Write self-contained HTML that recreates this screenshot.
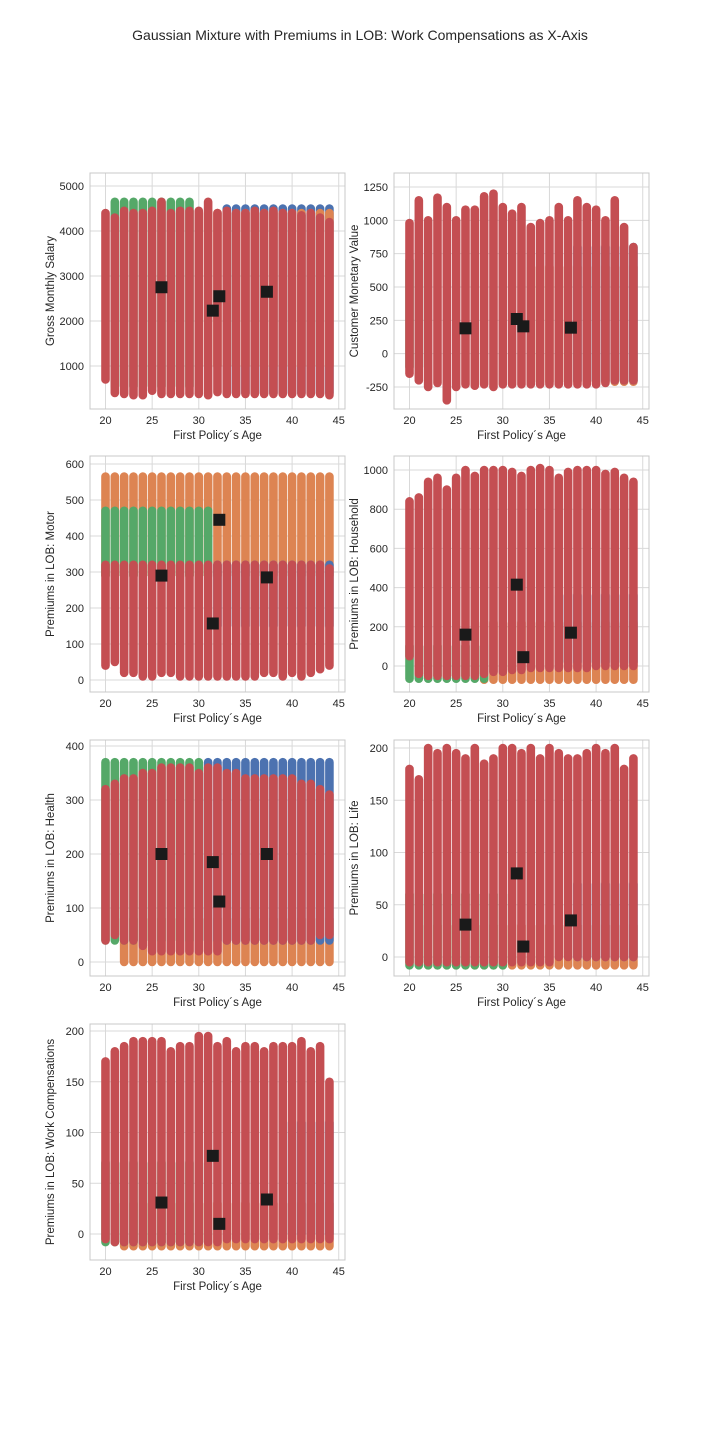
<!DOCTYPE html>
<html><head><meta charset="utf-8"><style>
body{margin:0;background:#fff;}
svg{display:block;font-family:"Liberation Sans",sans-serif;}
</style></head><body>
<svg id="chart" width="720" height="1440" viewBox="0 0 720 1440">
<rect width="720" height="1440" fill="#fff"/>
<text x="360" y="40" text-anchor="middle" font-size="14" fill="#262626">Gaussian Mixture with Premiums in LOB: Work Compensations as X-Axis</text>
</svg>
<script>
const ages=[20,21,22,23,24,25,26,27,28,29,30,31,32,33,34,35,36,37,38,39,40,41,42,43,44];
const xTicks=[20,25,30,35,40,45];
// panel 1 Gross Monthly Salary
const p1RedHi=[4400,4300,4450,4400,4400,4450,4650,4400,4450,4450,4450,4650,4400,4450,4400,4400,4450,4400,4450,4400,4400,4350,4400,4300,4200];
const p1RedLo=[700,400,380,350,350,450,380,380,380,380,380,350,420,380,380,380,380,380,380,380,380,380,380,380,350];
const p1Bands=[["#4c72b0",33,44,400,4500],["#dd8452",31,44,1000,4400],["#55a868",21,29,550,4650]];
const p1Cent=[[26,2750],[31.5,2230],[32.2,2550],[37.3,2650]];
// panel 2 CMV
const p2RedHi=[980,1150,1000,1170,1100,1000,1080,1080,1180,1200,1100,1050,1100,950,980,1000,1100,1000,1150,1100,1080,1000,1150,950,800];
const p2RedLo=[-150,-200,-250,-220,-350,-250,-230,-240,-230,-250,-230,-230,-230,-230,-230,-230,-230,-230,-230,-230,-230,-220,-200,-200,-200];
const p2Bands=[["#dd8452",33,44,-210,650],["#4c72b0",38,44,-200,800],["#55a868",20,21,-100,700]];
const p2Cent=[[26,190],[31.5,260],[32.2,205],[37.3,195]];
// panel 3 Motor
const p3RedHi=[320,320,320,320,320,320,320,320,320,320,320,320,320,320,320,320,320,320,320,320,320,320,320,320,310];
const p3RedLo=[40,50,20,20,10,10,20,20,10,10,10,10,10,10,10,10,10,20,20,10,20,10,20,30,40];
const p3Bands=[["#dd8452",20,44,290,565],["#55a868",20,31,290,470],["#4c72b0",32,44,150,320]];
const p3Cent=[[26,290],[31.5,157],[32.2,445],[37.3,285]];
// panel 4 Household
const p4RedHi=[840,860,940,960,900,960,1000,970,1000,1000,1000,990,970,1000,1010,1000,960,990,1000,1000,1000,980,990,960,940];
const p4RedLo=[50,-40,-50,-50,-50,-50,-50,-50,-40,-30,-30,-20,-20,-10,-10,-10,-10,-10,-10,-10,0,0,0,0,0];
const p4Bands=[["#dd8452",28,44,-70,220],["#4c72b0",36,44,20,360],["#55a868",20,28,-65,100]];
const p4Cent=[[26,160],[31.5,415],[32.2,45],[37.3,170]];
// panel 5 Health
const p5RedHi=[320,330,340,340,350,350,360,360,360,360,350,360,360,350,350,340,340,340,340,340,340,330,330,320,310];
const p5RedLo=[40,50,40,40,30,20,20,20,20,20,20,20,20,40,40,40,40,40,40,40,40,40,40,50,50];
const p5Bands=[["#dd8452",22,44,0,80],["#4c72b0",31,44,40,370],["#55a868",20,30,40,370]];
const p5Cent=[[26,200],[31.5,185],[32.2,112],[37.3,200]];
// panel 6 Life
const p6RedHi=[180,170,200,195,200,195,190,200,185,190,200,200,195,200,190,200,195,190,190,195,200,195,200,180,190];
const p6RedLo=[-5,-5,-5,-5,-5,-5,-5,-5,-5,-5,-5,-5,-5,-5,-5,-5,0,0,0,0,0,0,0,0,0];
const p6Bands=[["#dd8452",22,44,-8,30],["#4c72b0",38,44,0,70],["#55a868",20,30,-8,60]];
const p6Cent=[[26,31],[31.5,80],[32.2,10],[37.3,35]];
// panel 7 Work Compensations
const p7RedHi=[170,180,185,190,190,190,190,180,185,185,195,195,185,190,180,185,185,180,185,185,185,190,180,185,150];
const p7RedLo=[-5,-8,-8,-8,-8,-8,-8,-8,-8,-8,-8,-8,-8,-5,-5,-5,-5,-5,-5,-5,-5,-5,-5,-5,-5];
const p7Bands=[["#dd8452",22,44,-12,30],["#4c72b0",40,44,0,110],["#55a868",20,30,-8,70]];
const p7Cent=[[26,31],[31.5,77],[32.2,10],[37.3,34]];
const panels=[
 {name:"salary",label:"Gross Monthly Salary",x0:90,y0:173,ticks:[1000,2000,3000,4000,5000],ta:1000,pa:366,tb:5000,pb:186,hi:p1RedHi,lo:p1RedLo,bands:p1Bands,cent:p1Cent},
 {name:"cmv",label:"Customer Monetary Value",x0:394,y0:173,ticks:[-250,0,250,500,750,1000,1250],ta:-250,pa:387,tb:1250,pb:187,hi:p2RedHi,lo:p2RedLo,bands:p2Bands,cent:p2Cent},
 {name:"motor",label:"Premiums in LOB: Motor",x0:90,y0:456,ticks:[0,100,200,300,400,500,600],ta:0,pa:680,tb:600,pb:464,hi:p3RedHi,lo:p3RedLo,bands:p3Bands,cent:p3Cent},
 {name:"household",label:"Premiums in LOB: Household",x0:394,y0:456,ticks:[0,200,400,600,800,1000],ta:0,pa:666,tb:1000,pb:470,hi:p4RedHi,lo:p4RedLo,bands:p4Bands,cent:p4Cent},
 {name:"health",label:"Premiums in LOB: Health",x0:90,y0:740,ticks:[0,100,200,300,400],ta:0,pa:962,tb:400,pb:746,hi:p5RedHi,lo:p5RedLo,bands:p5Bands,cent:p5Cent},
 {name:"life",label:"Premiums in LOB: Life",x0:394,y0:740,ticks:[0,50,100,150,200],ta:0,pa:957,tb:200,pb:748,hi:p6RedHi,lo:p6RedLo,bands:p6Bands,cent:p6Cent},
 {name:"work",label:"Premiums in LOB: Work Compensations",x0:90,y0:1024,ticks:[0,50,100,150,200],ta:0,pa:1234,tb:200,pb:1031,hi:p7RedHi,lo:p7RedLo,bands:p7Bands,cent:p7Cent}
];
const NS="http://www.w3.org/2000/svg";
const svg=document.getElementById('chart');
function mk(tag,attrs,parent){const e=document.createElementNS(NS,tag);for(const k in attrs)e.setAttribute(k,attrs[k]);(parent||svg).appendChild(e);return e;}
const W=255,H=236,SW=8.6;
panels.forEach(p=>{
 const g=mk('g',{});
 
 
 const xs=a=>p.x0+15.5+(a-20)*9.33;
 const ys=v=>p.pa+(v-p.ta)*(p.pb-p.pa)/(p.tb-p.ta);
 const clip='c'+p.name;
 const cp=mk('clipPath',{id:clip},g);mk('rect',{x:p.x0,y:p.y0,width:W,height:H},cp);
 xTicks.forEach(t=>{
  const l=mk('line',{x1:xs(t),x2:xs(t),y1:p.y0,y2:p.y0+H,stroke:"#d9d9d9","stroke-width":1},g);
  
  const tx=mk('text',{x:xs(t),y:p.y0+H+15,"text-anchor":"middle","font-size":11,fill:"#262626"},g);tx.textContent=t;
  
 });
 p.ticks.forEach(t=>{
  const l=mk('line',{x1:p.x0,x2:p.x0+W,y1:ys(t),y2:ys(t),stroke:"#d9d9d9","stroke-width":1},g);
  
  const tx=mk('text',{x:p.x0-6,y:ys(t)+4,"text-anchor":"end","font-size":11,fill:"#262626"},g);tx.textContent=t;
  
 });
 const pg=mk('g',{"clip-path":"url(#"+clip+")"},g);
 p.bands.forEach(b=>{
  ages.forEach(a=>{
   if(a<b[1]||a>b[2])return;
   const y1=ys(b[4]),y2=ys(b[3]);
   const r=mk('rect',{x:xs(a)-SW/2,y:y1-SW/2,width:SW,height:y2-y1+SW,rx:SW/2,fill:b[0]},pg);
   
  });
 });
 ages.forEach((a,i)=>{
  const y1=ys(p.hi[i]),y2=ys(p.lo[i]);
  const r=mk('rect',{x:xs(a)-SW/2,y:y1-SW/2,width:SW,height:y2-y1+SW,rx:SW/2,fill:"#c44e52"},pg);
  
 });
 p.cent.forEach(c=>{
  const r=mk('rect',{x:xs(c[0])-6,y:ys(c[1])-6,width:12,height:12,fill:"#1a1a1a"},pg);
  
 });
 const fr=mk('rect',{x:p.x0,y:p.y0,width:W,height:H,fill:"none",stroke:"#c8c8c8","stroke-width":1},g);
 
 const xl=mk('text',{x:p.x0+W/2,y:p.y0+H+30,"text-anchor":"middle","font-size":11.5,fill:"#262626"},g);
 xl.textContent="First Policy\u00b4s Age";
 
 const lx=p.x0-36,ly=p.y0+H/2;
 const yl=mk('text',{x:lx,y:ly,"text-anchor":"middle","font-size":11.5,fill:"#262626",transform:"rotate(-90 "+lx+" "+ly+")"},g);
 yl.textContent=p.label;
 
});
</script>
</body></html>
